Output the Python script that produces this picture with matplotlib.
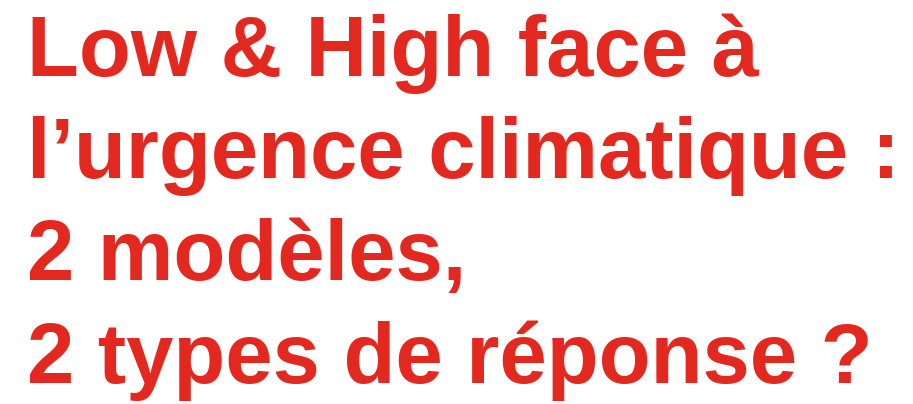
import matplotlib
matplotlib.use("Agg")
import matplotlib.pyplot as plt

# title lines, top to bottom
lines = [
    "Low & High face à",
    "l\u2019urgence climatique :",
    "2 modèles,",
    "2 types de réponse ?",
]
baselines = [76, 178, 280, 383]  # pixel rows of each line baseline

W, H = 913, 404
fig = plt.figure(figsize=(W / 100, H / 100), dpi=100)
fig.patch.set_facecolor("white")

for txt, y in zip(lines, baselines):
    fig.text(27 / W, 1 - y / H, txt, color="#e3291f", fontsize=61.2,
             fontweight="bold", family=["Liberation Sans", "DejaVu Sans"],
             ha="left", va="baseline")

fig.savefig("out.png", dpi=100, facecolor="white")
